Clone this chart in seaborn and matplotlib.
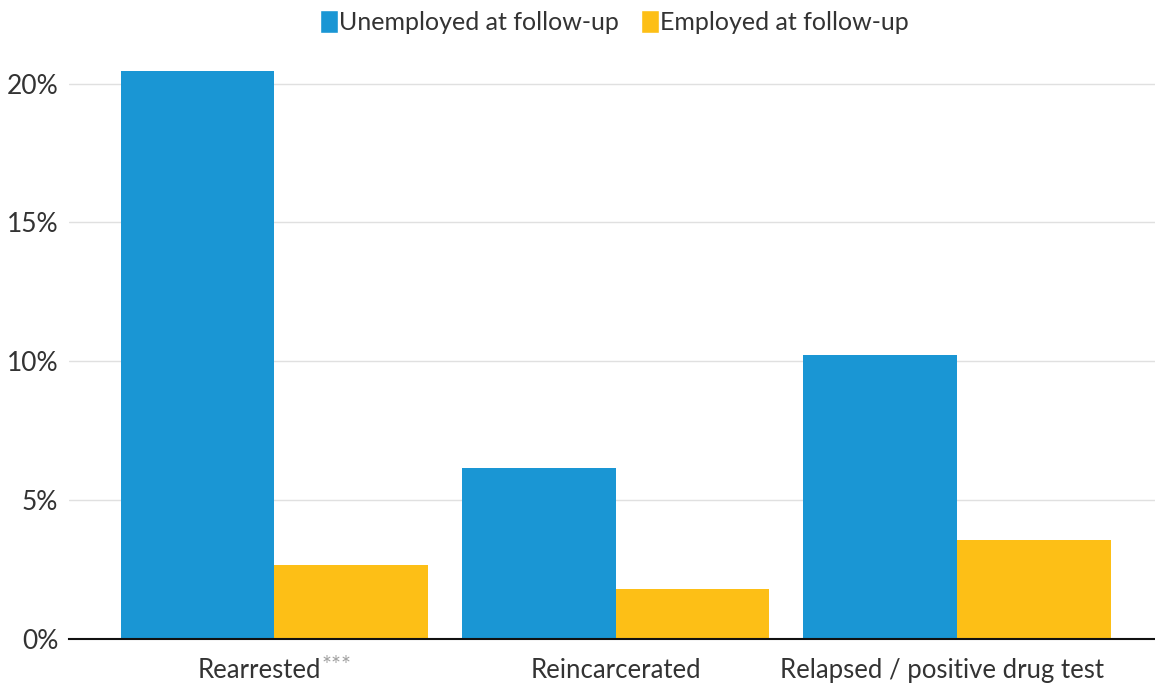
import matplotlib
matplotlib.use("Agg")
import matplotlib.pyplot as plt
import seaborn as sns
import pandas as pd
from matplotlib.patches import Patch
from matplotlib.ticker import FuncFormatter
from matplotlib.transforms import ScaledTranslation

# Outcome categories and rates (%) by employment status at follow-up
categories = ["Rearrested", "Reincarcerated", "Relapsed / positive drug test"]
category_marks = ["***", "", ""]
unemployed = [20.45, 6.15, 10.22]
employed = [2.67, 1.80, 3.57]
series_names = ["Unemployed at follow-up", "Employed at follow-up"]
y_ticks = [0, 5, 10, 15, 20]

df = pd.DataFrame({
    "category": categories * 2,
    "status": [series_names[0]] * 3 + [series_names[1]] * 3,
    "rate": unemployed + employed,
})

blue = "#1a96d4"
yellow = "#fdbf16"
text_color = "#333333"

sns.set_theme(style="white")
plt.rcParams["font.family"] = ["Lato", "DejaVu Sans"]

fig = plt.figure(figsize=(11.55, 6.83), dpi=100)
ax = fig.add_axes([0.06, 0.0644, 0.94, 0.862])

sns.barplot(data=df, x="category", y="rate", hue="status",
            palette=[blue, yellow], width=0.9, saturation=1,
            linewidth=0, ax=ax, legend=False)

ax.set_ylim(0, 21.2)
ax.set_xlim(-0.6, 2.58)
ax.set_yticks(y_ticks)
ax.yaxis.set_major_formatter(FuncFormatter(lambda v, _: f"{v:.0f}%"))
ax.grid(axis="y", color="#e0e0e0", linewidth=1)
ax.set_axisbelow(True)
for side in ["top", "right", "left"]:
    ax.spines[side].set_visible(False)
ax.spines["bottom"].set_color("#111111")
ax.spines["bottom"].set_linewidth(1.5)
ax.tick_params(axis="y", length=0, labelsize=19, colors=text_color, pad=8)
ax.tick_params(axis="x", length=0, labelsize=18.5, colors=text_color, pad=14)
ax.set_xlabel("")
ax.set_ylabel("")

# Nudge category labels: centre label plus marks, keep the last one inside the plot
shifts_px = [-15, 0, -15]
xlabels = ax.get_xticklabels()
for lbl, dx in zip(xlabels, shifts_px):
    lbl.set_transform(lbl.get_transform() + ScaledTranslation(dx / 100, 0, fig.dpi_scale_trans))

# Significance marks as small grey superscripts after the category labels
fig.canvas.draw()
renderer = fig.canvas.get_renderer()
for lbl, mark in zip(ax.get_xticklabels(), category_marks):
    if not mark:
        continue
    bb = lbl.get_window_extent(renderer)
    fig.text(bb.x1 + 1, bb.y1 + 3, mark, transform=None,
             fontsize=17, color="#a0a0a0", ha="left", va="top")

handles = [Patch(facecolor=blue, label=series_names[0]),
           Patch(facecolor=yellow, label=series_names[1])]
fig.legend(handles=handles, loc="upper center", bbox_to_anchor=(0.532, 1.018),
           ncol=2, frameon=False, fontsize=18, handlelength=0.7,
           handleheight=1.05, handletextpad=0.05, columnspacing=0.9,
           labelcolor=text_color)

fig.savefig("out.png", dpi=100)
